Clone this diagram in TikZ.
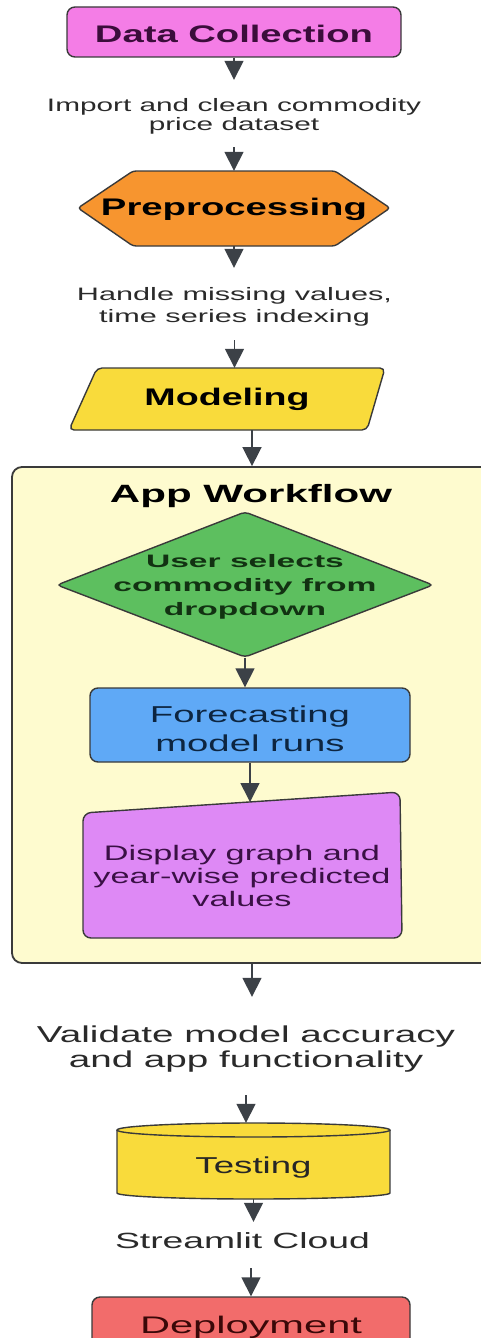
\documentclass[tikz,border=0pt]{standalone}
\usepackage{fontspec}
\setmainfont{Liberation Sans}
\usepackage{graphicx}
\usetikzlibrary{arrows.meta}
\definecolor{pinkc}{HTML}{F47DE6}
\definecolor{orangec}{HTML}{F7952F}
\definecolor{yellowc}{HTML}{F9DB3B}
\definecolor{contc}{HTML}{FEFBCF}
\definecolor{greenc}{HTML}{5DBF5F}
\definecolor{bluec}{HTML}{5FA9F6}
\definecolor{violetc}{HTML}{DE89F5}
\definecolor{redc}{HTML}{F26C6B}
\definecolor{edgec}{HTML}{3A3A3A}
\definecolor{arrc}{HTML}{3C4147}
\definecolor{labc}{HTML}{2A2A2A}
\definecolor{dctext}{HTML}{3B0D3B}
\definecolor{diatext}{HTML}{123212}
\definecolor{fctext}{HTML}{0D2540}
\definecolor{disptext}{HTML}{3A1045}
\definecolor{deptext}{HTML}{3A0808}
\newcommand{\wt}[2]{\resizebox{#1}{\height}{\begin{tabular}[t]{@{}c@{}}#2\end{tabular}}}
\begin{document}
\begin{tikzpicture}[x=1pt,y=-1pt,
  shp/.style={draw=edgec,line width=1.4pt},
  txt/.style={inner sep=0pt},
  arr/.style={draw=arrc,line width=1.6pt,-{Triangle[length=19pt,width=19pt]}},
]
\useasboundingbox (0,0) rectangle (481,1338);

% container
\node[shp, fill=contc, rounded corners=10pt, line width=1.8pt, minimum width=480pt, minimum height=496pt] (app) at (252,715) {};

% drawn shapes
\filldraw[shp, fill=orangec, rounded corners=3pt] (78,208) -- (133,171) -- (335,171) -- (390,208) -- (335,246) -- (133,246) -- cycle;
\filldraw[shp, fill=yellowc, rounded corners=5pt] (97,368) -- (385,368) -- (367,430) -- (69,430) -- cycle;
\filldraw[shp, fill=greenc, rounded corners=4pt] (245,512) -- (433,585) -- (245,657) -- (57,585) -- cycle;
\filldraw[shp, fill=violetc, rounded corners=8pt] (83,813) -- (400,792) -- (402,938) -- (83,938) -- cycle;
\fill[yellowc] (117,1130) rectangle (390,1193);
\fill[yellowc] (253.5,1193) ellipse[x radius=136.5, y radius=6];
\draw[shp] (117,1130) -- (117,1193) arc[start angle=180,end angle=0,x radius=136.5,y radius=6] -- (390,1130);
\filldraw[shp, fill=yellowc] (253.5,1130) ellipse[x radius=136.5,y radius=7];
\coordinate (dispin) at (250,802);

% nodes
\node[txt, shp, fill=pinkc, rounded corners=8pt, minimum width=334pt, minimum height=50pt,
  font=\fontsize{24}{28}\selectfont\bfseries, text=dctext, text height=22pt, text depth=0pt] (dc) at (234,32) {\wt{278pt}{Data Collection}};
\node[txt, anchor=base, font=\fontsize{18}{19}\selectfont, text=labc, text height=14pt, text depth=24pt] (l1) at (234,111) {\wt{374pt}{Import and clean commodity\\price dataset}};
\node[txt, minimum width=312pt, minimum height=75pt, font=\fontsize{24}{28}\selectfont\bfseries, text=black, text height=13pt, text depth=0pt] (pre) at (234,208.5) {\wt{266pt}{Preprocessing}};
\node[txt, anchor=base, font=\fontsize{18}{22}\selectfont, text=labc, text height=13pt, text depth=27pt] (l2) at (234.5,300) {\wt{315pt}{Handle missing values,\\time series indexing}};
\node[txt, minimum width=316pt, minimum height=62pt, font=\fontsize{24}{28}\selectfont\bfseries, text=black, text height=12pt, text depth=0pt] (mod) at (227,399) {\wt{165pt}{Modeling}};
\node[txt, anchor=base, font=\fontsize{25}{28}\selectfont\bfseries, text=black] (title) at (251,502) {\wt{282pt}{App Workflow}};
\node[txt, minimum width=376pt, minimum height=145pt, font=\fontsize{18}{24}\selectfont\bfseries, text=diatext, text height=0pt, text depth=36pt] (dia) at (245,585) {\wt{263pt}{User selects\\commodity from\\dropdown}};
\node[txt, shp, fill=bluec, rounded corners=8pt, minimum width=320pt, minimum height=74pt,
  font=\fontsize{23}{29}\selectfont, text=fctext, text height=0pt, text depth=6pt] (fc) at (250,725) {\wt{200pt}{Forecasting\\model runs}};
\node[txt, anchor=base, font=\fontsize{21}{23}\selectfont, text=disptext, text height=15pt, text depth=52pt] (disp) at (242,860) {\wt{297pt}{Display graph and\\year-wise predicted\\values}};
\node[txt, anchor=base, font=\fontsize{23}{25}\selectfont, text=labc, text height=17pt, text depth=32pt] (val) at (246,1042) {\wt{418pt}{Validate model accuracy\\and app functionality}};
\node[txt, minimum width=273pt, minimum height=76pt, font=\fontsize{23}{28}\selectfont, text=black!85, text height=24pt, text depth=0pt] (test) at (253.5,1161) {\wt{116pt}{Testing}};
\node[txt, anchor=base, font=\fontsize{22}{26}\selectfont, text=labc, text height=16pt, text depth=2pt] (sl) at (242.5,1248) {\wt{255pt}{Streamlit Cloud}};
\node[txt, shp, fill=redc, rounded corners=8pt, minimum width=318pt, minimum height=50pt,
  font=\fontsize{24}{28}\selectfont, text=deptext, text height=22pt, text depth=0pt] (dep) at (251,1322) {\wt{222pt}{Deployment}};

% connectors
\draw[arr, shorten >=17pt] (dc.south) -- (dc.south |- l1.north);
\draw[arr, shorten <=12pt] (l1.south) -- (l1.south |- pre.north);
\draw[arr, shorten >=19pt] (pre.south) -- (pre.south |- l2.north);
\draw[arr, shorten <=13pt] (l2.south) -- (l2.south |- mod.north);
\draw[arr] (app.north |- mod.south) -- (app.north);
\draw[arr] (dia.south) -- (dia.south |- fc.north);
\draw[arr] (fc.south) -- (dispin);
\draw[arr, shorten >=28pt] (app.south) -- (app.south |- val.north);
\draw[arr, shorten <=21pt] (val.south) -- (val.south |- test.north);
\draw[arr, shorten >=10pt] (test.south) -- (test.south |- sl.north);
\draw[arr, shorten <=18pt] (dep.north |- sl.south) -- (dep.north);
\end{tikzpicture}
\end{document}
